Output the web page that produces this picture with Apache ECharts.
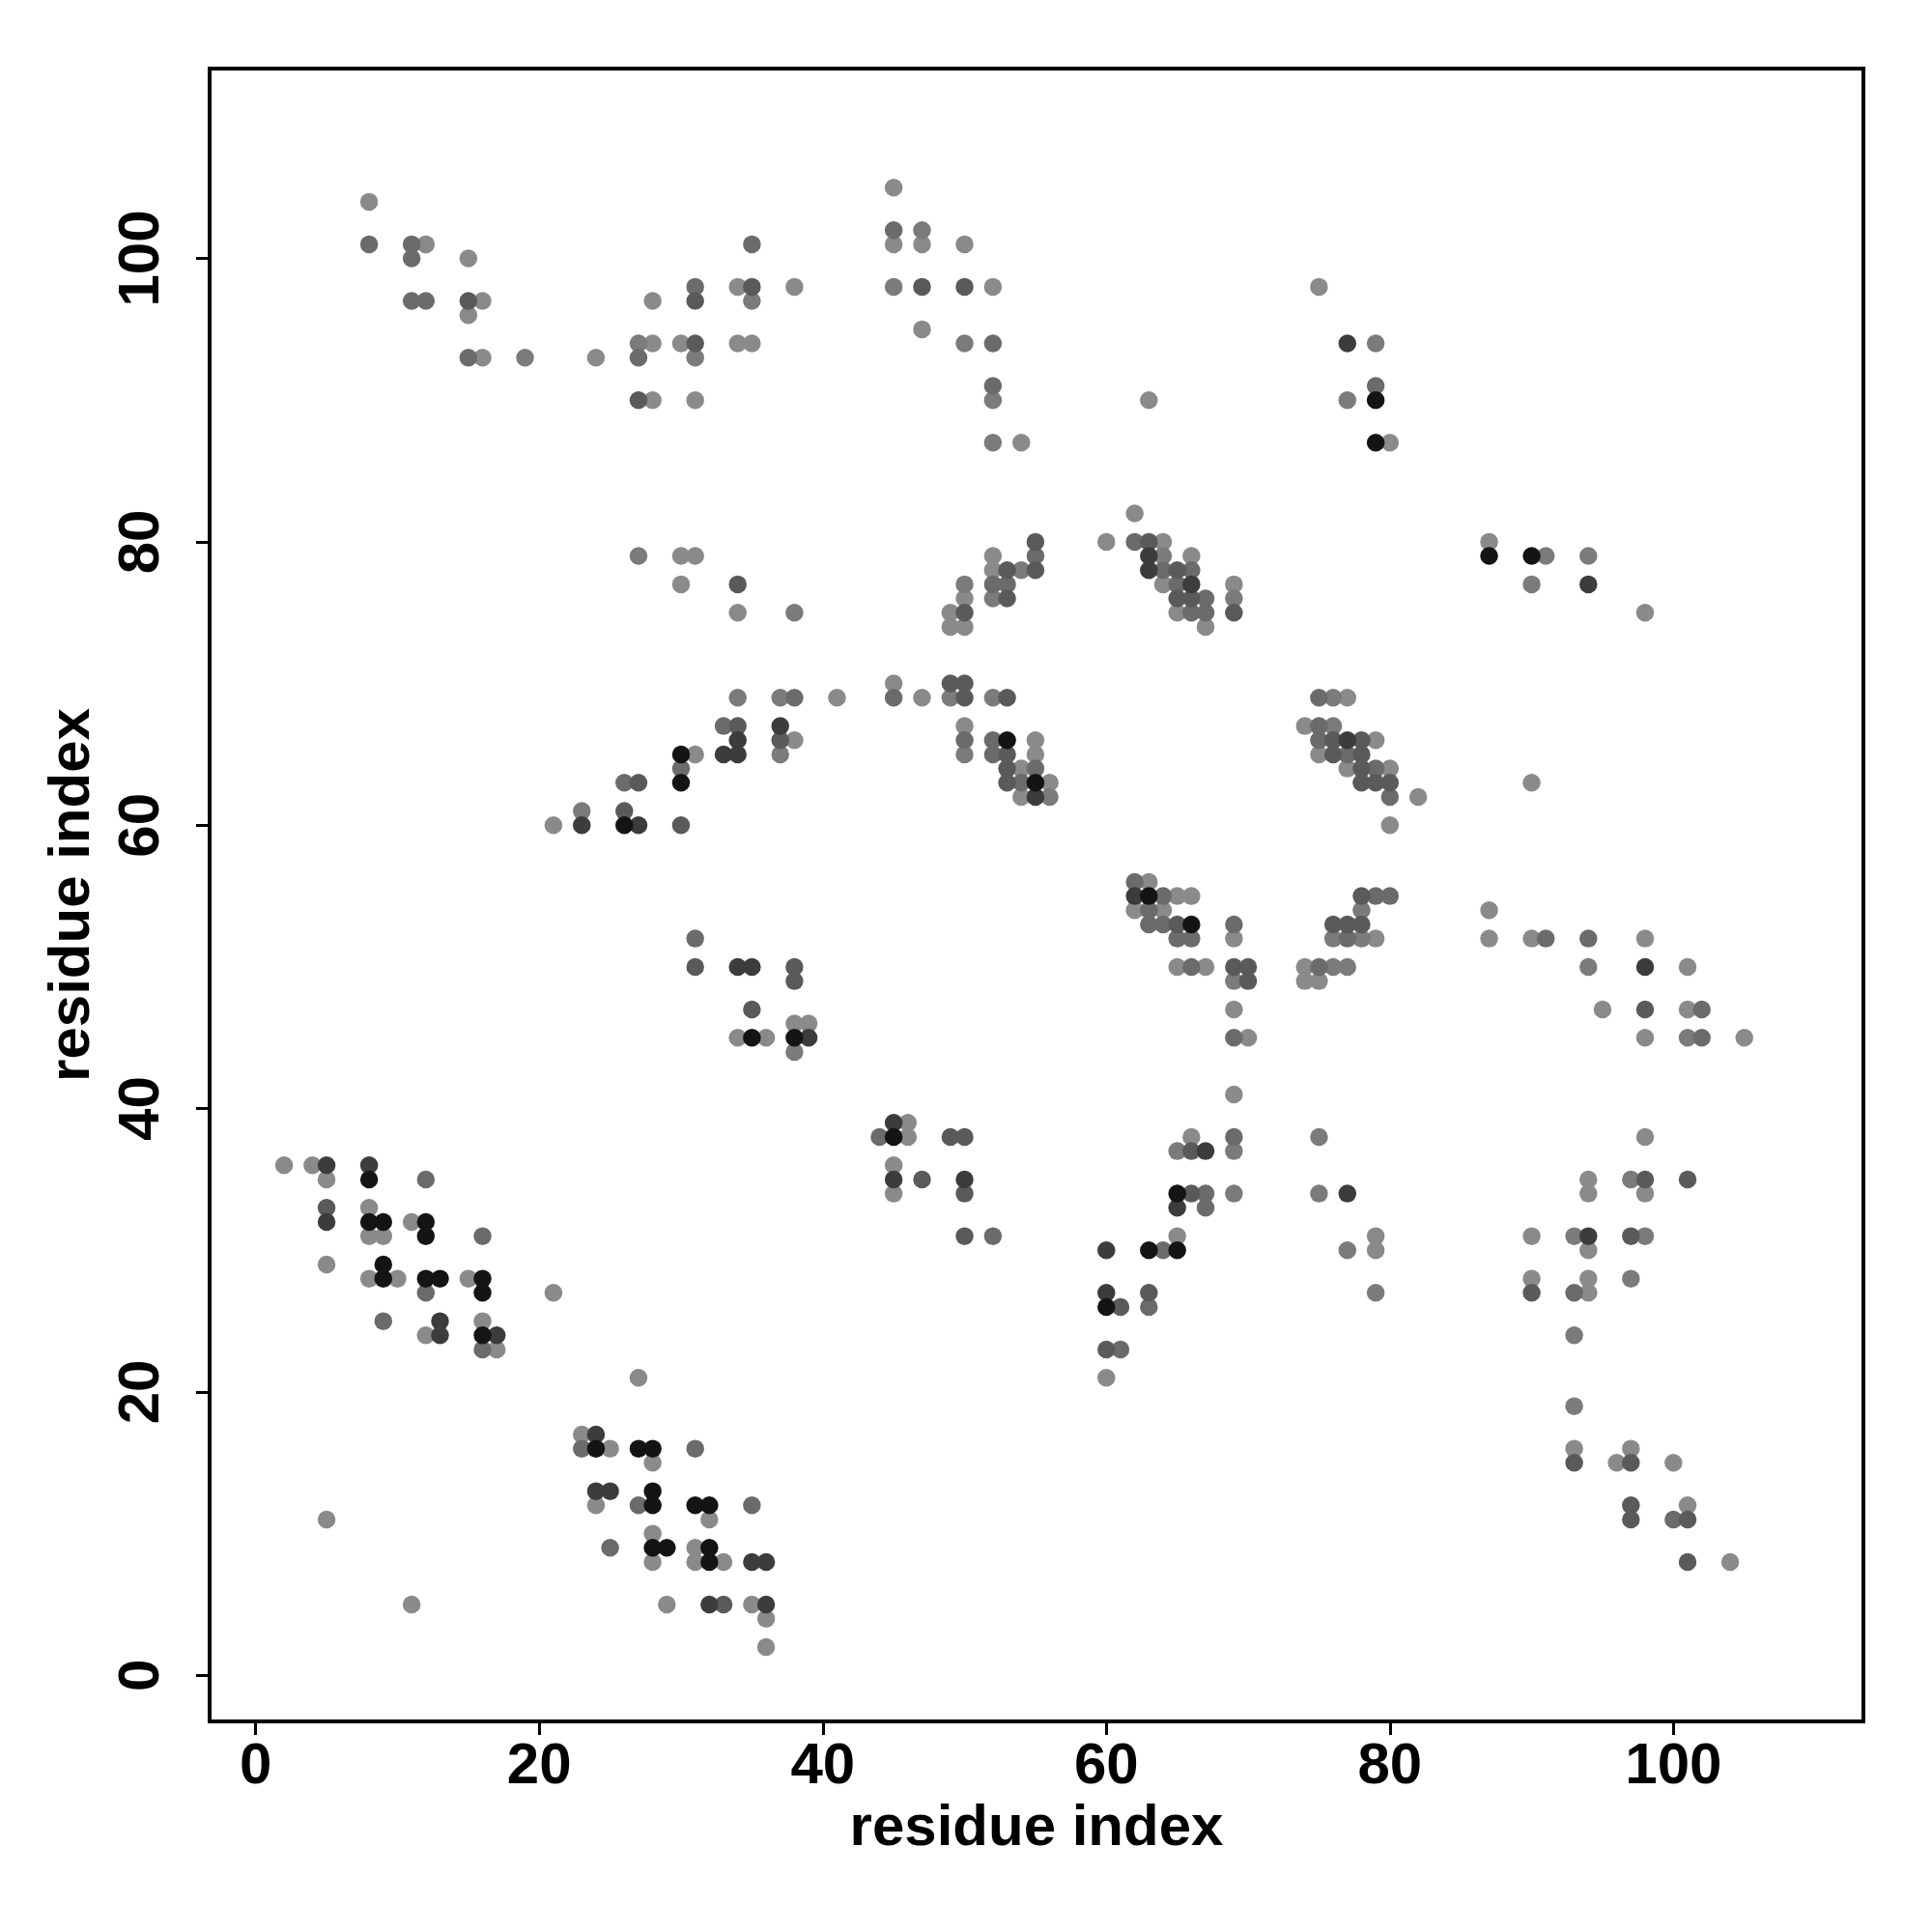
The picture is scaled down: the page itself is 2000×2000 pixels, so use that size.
<!DOCTYPE html>
<html>
<head>
<meta charset="utf-8">
<script src="https://cdn.jsdelivr.net/npm/echarts@6/dist/echarts.min.js"></script>
<style>
html,body{margin:0;padding:0;background:#fff;}
#chart{width:2000px;height:2000px;}
</style>
</head>
<body>
<div id="chart"></div>
<script>
// Tick labels
const tickValues = [0, 20, 40, 60, 80, 100];

// Contacts grouped by grey level (residue i, residue j)
const level1Pts = [[8,104],[12,101],[15,100],[16,97],[15,96],[16,93],[24,93],[28,94],[30,94],[34,94],[35,94],[28,90],[31,90],[28,97],[34,98],
[45,105],[45,101],[47,101],[50,101],[38,98],[52,98],[47,95],[54,87],[63,90],[62,82],
[75,98],[80,87],
[30,79],[31,79],[30,77],[34,75],[31,65],[21,60],
[52,79],[52,78],[50,76],[49,75],[49,74],[50,74],[60,80],[64,80],[66,79],[64,77],[65,75],[67,74],[69,77],[41,69],[47,69],[45,70],[38,66],[50,67],[55,66],[55,65],[54,64],[56,63],[54,62],[63,56],[65,55],[66,55],[62,54],[64,54],
[87,80],[98,75],[77,69],[74,67],[79,66],[75,65],[77,64],[80,64],[82,62],[80,60],[90,63],
[34,45],[36,45],[2,36],[4,36],[5,35],[8,33],[11,32],[8,31],[9,31],[5,29],[8,28],[10,28],[15,28],[21,27],
[16,25],[12,24],[17,23],[27,21],[23,17],[25,16],[28,15],[24,12],[32,11],[28,10],[31,9],[28,8],[31,8],[33,8],[5,11],[11,5],[29,5],[35,5],[36,4],[36,2],
[69,52],[65,50],[67,50],[69,47],[70,45],[69,41],[66,38],[65,31],[38,46],[39,46],[46,39],[46,38],[45,36],[45,34],
[79,52],[87,52],[90,52],[98,52],[74,50],[74,49],[75,49],[101,50],[95,47],[101,47],[98,45],[105,45],[98,38],[94,35],[94,34],[98,34],[79,31],[79,30],[90,31],[94,30],[90,28],[94,28],[94,27],[87,54],
[60,21],
[93,16],[96,15],[97,16],[100,15],[101,12],[104,8]];

const level2Pts = [[19,93],[27,94],[31,93],[35,97],[47,102],[45,98],[50,94],[52,90],[52,87],[79,94],[77,90],[27,79],[34,69],[23,61],[54,78],[52,76],[50,77],[38,75],[64,79],[69,76],[37,69],[49,69],[52,69],[37,65],[50,65],[56,62],[91,79],[94,79],[90,77],[76,69],[76,67],[78,54],[69,49],[65,37],[69,37],[69,34],[38,44],[76,52],[78,52],[76,50],[77,50],[94,50],[101,45],[75,38],[75,34],[97,35],[77,30],[93,31],[98,31],[79,27],[97,28],[93,24],[93,19]];

const level3Pts = [[8,101],[11,101],[11,100],[11,97],[12,97],[15,93],[27,93],[31,98],[35,101],[45,102],[52,94],[52,91],[79,91],[33,67],[30,64],[26,63],[55,79],[52,77],[53,77],[62,80],[64,78],[66,78],[65,77],[67,76],[66,75],[67,75],[38,69],[45,69],[50,66],[52,66],[52,65],[55,64],[54,63],[62,56],[64,55],[63,54],[75,69],[75,67],[75,66],[77,65],[79,64],[80,62],[79,55],[80,55],[31,52],[12,35],[16,31],[12,27],[9,25],[16,23],[23,16],[31,16],[27,12],[35,12],[25,9],[63,53],[64,53],[69,53],[65,52],[66,52],[66,50],[69,45],[69,38],[67,34],[67,33],[64,30],[44,38],[52,31],[77,52],[91,52],[94,52],[75,50],[102,47],[102,45],[93,27],[63,26],[61,23],[100,11]];

const level4Pts = [[15,97],[31,94],[27,90],[31,97],[35,98],[47,98],[50,98],[34,77],[34,67],[27,63],[26,61],[30,60],[55,80],[55,78],[53,78],[53,76],[50,75],[63,80],[65,78],[65,76],[66,76],[69,75],[50,69],[53,69],[49,70],[50,70],[37,66],[53,65],[53,64],[53,63],[76,66],[78,66],[76,65],[78,65],[78,64],[78,63],[79,63],[80,63],[78,55],[31,50],[35,47],[5,33],[33,5],[65,53],[69,50],[70,50],[70,49],[66,37],[66,34],[63,27],[38,50],[38,49],[49,38],[50,38],[47,35],[50,34],[50,31],[76,53],[77,53],[78,53],[98,47],[98,35],[101,35],[97,31],[90,27],[61,26],[60,23],[93,15],[97,15],[97,12],[97,11],[101,11],[101,8]];

const level5Pts = [[77,94],[34,66],[33,65],[34,65],[23,60],[27,60],[63,79],[63,78],[66,77],[37,67],[55,62],[94,77],[77,66],[34,50],[35,50],[5,36],[8,36],[5,32],[13,25],[13,24],[17,24],[24,17],[24,13],[25,13],[35,8],[36,8],[32,5],[36,5],[65,33],[60,30],[60,27],[67,37],[39,45],[45,39],[45,35],[50,35],[98,50],[77,34],[94,31],[62,55]];

const level6Pts = [[79,90],[79,87],[30,65],[30,63],[26,60],[53,66],[55,63],[63,55],[87,79],[90,79],[35,45],[8,35],[8,32],[9,32],[12,32],[12,31],[9,29],[9,28],[12,28],[13,28],[16,28],[16,27],[16,24],[24,16],[27,16],[28,16],[28,13],[28,12],[31,12],[32,12],[28,9],[29,9],[32,9],[32,8],[66,53],[65,34],[63,30],[65,30],[38,45],[45,38],[60,26]];

const levelData = [level1Pts, level2Pts, level3Pts, level4Pts, level5Pts, level6Pts];
const levelColors = ['#8a8a8a', '#7b7b7b', '#6b6b6b', '#5a5a5a', '#3c3c3c', '#141414'];

const chart = echarts.init(document.getElementById('chart'), null, {renderer: 'canvas'});
const fontFamily = '"Liberation Sans", Arial, Helvetica, sans-serif';
const labelStyle = {fontSize: 60, fontWeight: 'bold', fontFamily: fontFamily, color: '#000'};

function makeAxis(isY) {
  return {
    type: 'value',
    min: -3.25,
    max: 113.4,
    name: 'residue index',
    nameLocation: 'middle',
    nameGap: isY ? 112 : 80,
    nameTextStyle: Object.assign({}, labelStyle),
    axisLine: {show: false, onZero: false},
    splitLine: {show: false},
    axisTick: {show: true, length: 14, lineStyle: {color: '#000', width: 3}, customValues: tickValues},
    axisLabel: Object.assign({margin: isY ? 40 : 17, rotate: isY ? 90 : 0, customValues: tickValues}, labelStyle)
  };
}

chart.setOption({
  animation: false,
  backgroundColor: '#fff',
  grid: {left: 217, top: 71, width: 1712, height: 1711, show: true, borderColor: '#000', borderWidth: 4, backgroundColor: 'transparent'},
  xAxis: makeAxis(false),
  yAxis: makeAxis(true),
  series: levelData.map((pts, i) => ({
    type: 'scatter',
    data: pts,
    symbol: 'circle',
    symbolSize: 18.5,
    itemStyle: {color: levelColors[i], opacity: 1},
    emphasis: {disabled: true},
    z: 2 + i
  }))
});
</script>
</body>
</html>
